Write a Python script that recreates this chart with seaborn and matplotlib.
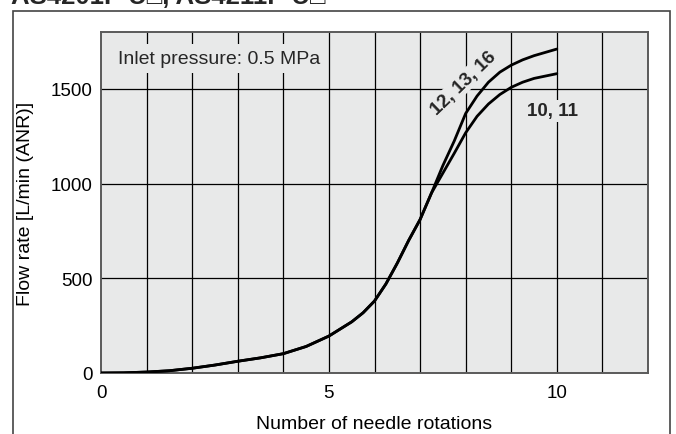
import numpy as np
import pandas as pd
import matplotlib
matplotlib.use("Agg")
import matplotlib.pyplot as plt
import seaborn as sns
from matplotlib.patches import Rectangle

# shared part of both curves (needle rotations -> flow rate)
rot_common = [0, 0.5, 1, 1.5, 2, 2.5, 3, 3.5, 4, 4.5, 5, 5.5, 5.75, 6, 6.25, 6.5, 6.75, 7.0, 7.25]
flow_common = [0, 1, 5, 12, 25, 42, 62, 80, 102, 140, 195, 270, 318, 380, 470, 580, 700, 810, 950]

# split part
rot_tail = [7.5, 7.75, 8.0, 8.25, 8.5, 8.75, 9.0, 9.25, 9.5, 10.0]
flow_12_13_16 = [1095, 1225, 1370, 1462, 1535, 1588, 1625, 1653, 1675, 1710]
flow_10_11 = [1055, 1160, 1268, 1355, 1420, 1470, 1508, 1535, 1555, 1580]

series_names = ["12, 13, 16", "10, 11"]

title = "AS4201F-U\u25a1, AS4211F-U\u25a1"
note = "Inlet pressure: 0.5 MPa"
xlabel = "Number of needle rotations"
ylabel = "Flow rate [L/min (ANR)]"
x_ticks = [0, 5, 10]
y_ticks = [0, 500, 1000, 1500]

rows = []
for name, tail in zip(series_names, [flow_12_13_16, flow_10_11]):
    for r, f in zip(rot_common + rot_tail, flow_common + tail):
        rows.append({"series": name, "rotations": r, "flow": f})
df = pd.DataFrame(rows)

sns.set_theme(style="white")
plt.rcParams["font.family"] = ["Liberation Sans", "DejaVu Sans"]

bg = "#e8e9e9"
fig = plt.figure(figsize=(6.76, 4.35), dpi=100)
ax = fig.add_axes([101 / 676, 61 / 435, 547 / 676, 341 / 435])
ax.set_facecolor(bg)

sns.lineplot(data=df, x="rotations", y="flow", hue="series", units="series",
             estimator=None, palette=["black", "black"], linewidth=2.0,
             legend=False, ax=ax, zorder=3)

ax.set_xlim(0, 12)
ax.set_ylim(0, 1800)
ax.set_xticks(x_ticks)
ax.set_yticks(y_ticks)
for v in range(1, 12):
    ax.axvline(v, color="black", lw=0.9, zorder=1)
for v in y_ticks[1:]:
    ax.axhline(v, color="black", lw=0.9, zorder=1)

ax.tick_params(length=0, labelsize=13.5, colors="black")
ax.tick_params(axis="x", pad=8)
ax.tick_params(axis="y", pad=6)
ax.set_xlabel(xlabel, fontsize=14, labelpad=10, color="black")
ax.set_ylabel(ylabel, fontsize=14, labelpad=12, color="black")
for s in ax.spines.values():
    s.set_color("#5a5a5a")
    s.set_linewidth(1.4)

ax.text(0.37, 1660, note, fontsize=14, va="center", ha="left", zorder=2,
        bbox=dict(facecolor=bg, edgecolor="none", pad=4))
ax.text(7.96, 1534, series_names[0], fontsize=13.5, fontweight="bold",
        rotation=44, ha="center", va="center", zorder=2,
        bbox=dict(facecolor=bg, edgecolor="none", pad=1))
ax.text(9.91, 1383, series_names[1], fontsize=13.5, fontweight="bold",
        ha="center", va="center", zorder=2,
        bbox=dict(facecolor=bg, edgecolor="none", pad=2))

# outer frame and clipped heading
fig.patches.append(Rectangle((12.5 / 676, -0.1), 657 / 676, 1.1 - 11.5 / 435,
                             transform=fig.transFigure, fill=False,
                             edgecolor="#444444", lw=1.2))
fig.text(11 / 676, 1 - 4 / 435, title, fontsize=18.5, fontweight="bold",
         ha="left", va="baseline")

fig.savefig("out.png", dpi=100)
